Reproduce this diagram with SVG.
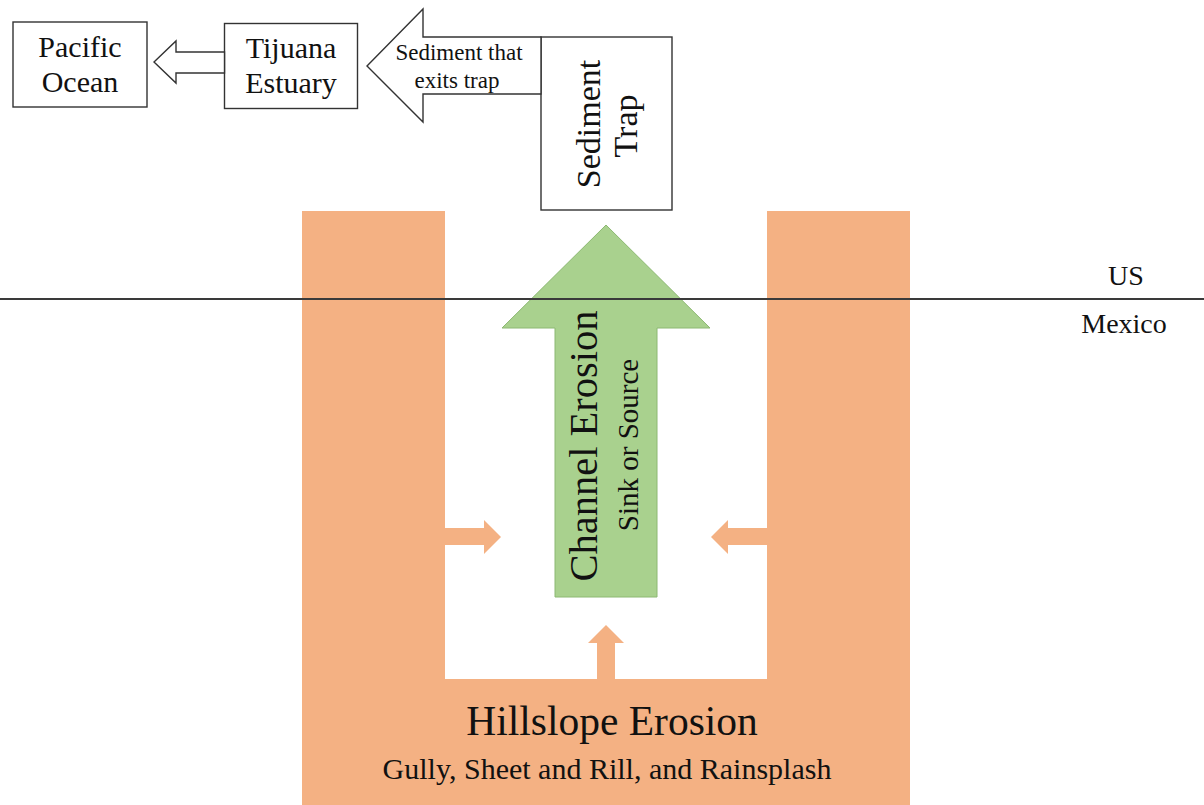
<svg xmlns="http://www.w3.org/2000/svg" width="1204" height="805" viewBox="0 0 1204 805">
  <style>
    .t { font-family: "Liberation Serif", "Times New Roman", "DejaVu Serif", serif; fill: #111; text-anchor: middle; }
    .box { fill: #fff; stroke: #333; stroke-width: 1.4; }
    .hollow { fill: #fff; stroke: #333; stroke-width: 1.4; stroke-linejoin: miter; }
    .orange { fill: #F4B183; }
    .green { fill: #A9D18E; stroke: #8CB872; stroke-width: 1; }
  </style>
  <rect width="1204" height="805" fill="#fff"/>

  <g id="hillslope-erosion">
    <path class="orange" d="M302,211 H445 V679 H767 V211 H910 V805 H302 Z"/>
    <text class="t" x="612" y="735" font-size="41.5">Hillslope Erosion</text>
    <text class="t" x="607" y="779" font-size="30">Gully, Sheet and Rill, and Rainsplash</text>
  </g>

  <g id="channel-erosion">
    <polygon class="green" points="606,225 710,328 657,328 657,597 555,597 555,328 502,328"/>
    <text class="t" font-size="40.5" transform="translate(597,446) rotate(-90)">Channel Erosion</text>
    <text class="t" font-size="29" transform="translate(638,445) rotate(-90)">Sink or Source</text>
  </g>

  <g id="sediment-trap">
    <rect class="box" x="541" y="37" width="131" height="173"/>
    <text class="t" font-size="34" transform="translate(600,124) rotate(-90)">Sediment</text>
    <text class="t" font-size="34" transform="translate(637,126) rotate(-90)">Trap</text>
  </g>

  <g id="tijuana-estuary">
    <rect class="box" x="224.5" y="23.5" width="133" height="85"/>
    <text class="t" x="291" y="58" font-size="30">Tijuana</text>
    <text class="t" x="291" y="93" font-size="30">Estuary</text>
  </g>

  <g id="pacific-ocean">
    <rect class="box" x="13" y="22" width="134" height="85"/>
    <text class="t" x="80" y="57" font-size="30">Pacific</text>
    <text class="t" x="80" y="92" font-size="30">Ocean</text>
  </g>

  <g id="connectors">
    <polygon class="hollow" points="367,66 423,9 423,37 541,37 541,94 423,94 423,122"/>
    <text class="t" x="459" y="60" font-size="23">Sediment that</text>
    <text class="t" x="457" y="88" font-size="23">exits trap</text>
    <polygon class="hollow" points="154,62 176,41 176,52 224.5,52 224.5,73 176,73 176,83"/>
    <polygon class="orange" points="445,528 484,528 484,520 501,537 484,554 484,545 445,545"/>
    <polygon class="orange" points="767,528 728,528 728,520 711,537 728,554 728,545 767,545"/>
    <polygon class="orange" points="597,679 597,643 588,643 606,625 624,643 615,643 615,679"/>
  </g>

  <g id="border">
    <line x1="0" y1="299" x2="1204" y2="299" stroke="#3a3a3a" stroke-width="2"/>
    <text class="t" x="1126" y="285" font-size="28">US</text>
    <text class="t" x="1124" y="333" font-size="28">Mexico</text>
  </g>
</svg>
